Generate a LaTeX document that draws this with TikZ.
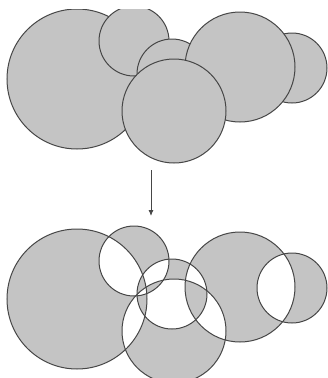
\documentclass[tikz,border=0pt]{standalone}
\usetikzlibrary{arrows.meta}
\definecolor{blobgray}{RGB}{196,196,196}
\definecolor{rimgray}{RGB}{70,70,70}
\begin{document}
\begin{tikzpicture}[x=1pt,y=-1pt,
  blob/.style={fill=blobgray,draw=rimgray,line width=1pt},
  rim/.style={draw=rimgray,line width=1pt}]
\useasboundingbox (0,0) rectangle (328,378);
\clip (0,9) rectangle (328,378);
% Union: filled circles drawn one over another
\draw[blob] (77,79) circle (70);
\draw[blob] (134,41) circle (35);
\draw[blob] (172,74) circle (35);
\draw[blob] (292,68) circle (35);
\draw[blob] (240,67) circle (55);
\draw[blob] (174,111) circle (52);
% Arrow
\coordinate (from) at (151,170);
\coordinate (to) at (151,216);
\draw[rimgray,line width=0.9pt,-{Latex[length=6pt,width=5pt]}] (from) -- (to);
% Exclusive or: even odd fill
\begin{scope}[yshift=-220pt]
\fill[blobgray,even odd rule] (77,79) circle (70) (134,41) circle (35)
  (172,74) circle (35) (292,68) circle (35) (240,67) circle (55)
  (174,111) circle (52);
\foreach \cx/\cy/\r in {77/79/70,134/41/35,172/74/35,292/68/35,240/67/55,174/111/52}
  \draw[rim] (\cx,\cy) circle (\r);
\end{scope}
\end{tikzpicture}
\end{document}
